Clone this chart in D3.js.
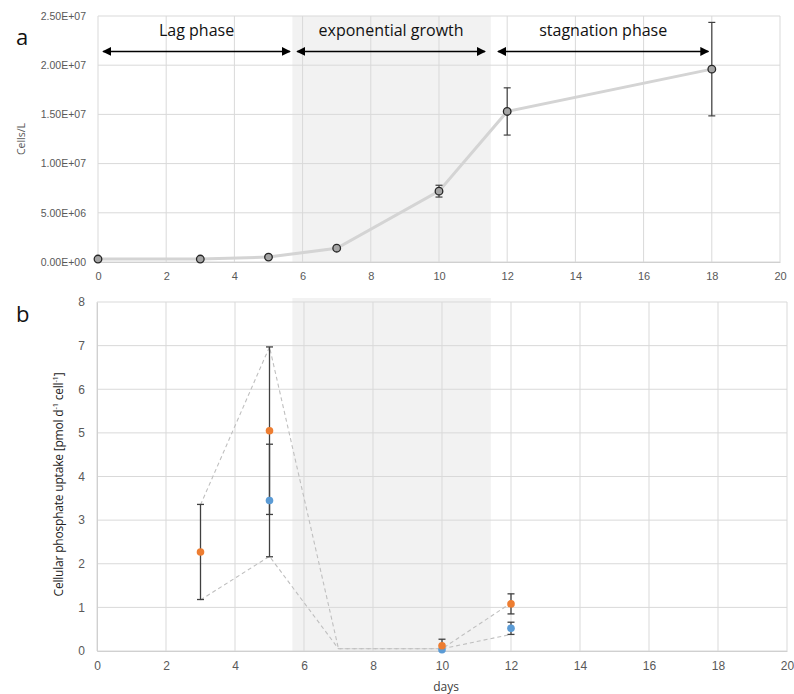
<!DOCTYPE html>
<html>
<head>
<meta charset="utf-8">
<script src="https://cdnjs.cloudflare.com/ajax/libs/d3/7.8.5/d3.min.js"></script>
<style>
body { margin: 0; background: #fff; }
svg { font-family: "Open Sans", sans-serif; }
.tick text { fill: #595959; }
</style>
</head>
<body>
<script>
// panel a: cell counts
var days = [0, 3, 5, 7, 10, 12, 18];
var cells = [3.0e5, 3.0e5, 5.0e5, 1.4e6, 7.2e6, 1.53e7, 1.96e7];
var cellsErr = [0, 0, 0, 0, 6.0e5, 2.4e6, 4.75e6];

// phases (days)
var phaseNames = ["Lag phase", "exponential growth", "stagnation phase"];
var phaseStart = [0.15, 5.84, 11.73];
var phaseEnd = [5.63, 11.35, 17.9];
var shadeRange = [5.7, 11.52];

// panel b: phosphate uptake
var orangeDays = [3, 5, 10, 12];
var orangeUptake = [2.27, 5.05, 0.12, 1.08];
var orangeErr = [1.09, 1.92, 0.15, 0.23];
var blueDays = [5, 10, 12];
var blueUptake = [3.45, 0.03, 0.52];
var blueErr = [1.29, 0, 0.14];

// dashed envelope lines
var envDays = [3, 5, 7, 10, 12];
var upperEnv = [3.35, 6.97, 0.05, 0.05, 1.1];
var lowerEnv = [1.17, 2.17, 0.05, 0.05, 0.38];

var xTicks = d3.range(0, 21, 2);

var svg = d3.select("body").append("svg")
	.attr("width", 794)
	.attr("height", 694);

svg.append("defs").append("marker")
	.attr("id", "head")
	.attr("viewBox", "0 0 10 10")
	.attr("refX", 9).attr("refY", 5)
	.attr("markerWidth", 6).attr("markerHeight", 6)
	.attr("orient", "auto-start-reverse")
	.append("path")
	.attr("d", "M0,0L10,5L0,10Z")
	.attr("fill", "#000");

function sci(v) {
	if (v === 0) return "0.00E+00";
	var e = Math.floor(Math.log10(v));
	var m = v / Math.pow(10, e);
	return m.toFixed(2) + "E+" + (e < 10 ? "0" : "") + e;
}

// ---------- panel a ----------
var xa = d3.scaleLinear().domain([0, 20]).range([98, 780]);
var ya = d3.scaleLinear().domain([0, 2.5e7]).range([262, 16]);

var ga = svg.append("g");

ga.append("rect")
	.attr("x", xa(shadeRange[0]))
	.attr("y", ya(2.5e7))
	.attr("width", xa(shadeRange[1]) - xa(shadeRange[0]))
	.attr("height", ya(0) - ya(2.5e7))
	.attr("fill", "#f2f2f2");

ga.selectAll("line.hgrid").data(d3.range(0, 2.5e7 + 1, 5e6)).enter().append("line")
	.attr("x1", xa(0)).attr("x2", xa(20))
	.attr("y1", function(d) { return ya(d); })
	.attr("y2", function(d) { return ya(d); })
	.attr("stroke", "#d9d9d9");

ga.selectAll("line.vgrid").data(xTicks).enter().append("line")
	.attr("x1", function(d) { return xa(d); })
	.attr("x2", function(d) { return xa(d); })
	.attr("y1", ya(0)).attr("y2", ya(2.5e7))
	.attr("stroke", "#d9d9d9");

ga.append("g")
	.attr("transform", "translate(" + xa(0) + ",0)")
	.call(d3.axisLeft(ya).tickValues(d3.range(0, 2.5e7 + 1, 5e6)).tickFormat(sci).tickSize(0).tickPadding(12))
	.call(function(g) { g.select(".domain").remove(); })
	.selectAll("text").style("font-size", "10.5px");

ga.append("g")
	.attr("transform", "translate(0," + ya(0) + ")")
	.call(d3.axisBottom(xa).tickValues(xTicks).tickSize(0).tickPadding(10))
	.call(function(g) { g.select(".domain").attr("stroke", "#d0d0d0"); })
	.selectAll("text").style("font-size", "11px");

ga.append("path")
	.datum(days)
	.attr("fill", "none")
	.attr("stroke", "#d4d4d4")
	.attr("stroke-width", 3)
	.attr("d", d3.line()
		.x(function(d) { return xa(d); })
		.y(function(d, i) { return ya(cells[i]); }));

var errA = ga.selectAll("g.erra").data(days.filter(function(d, i) { return cellsErr[i] > 0; }))
	.enter().append("g");
errA.each(function(d) {
	var i = days.indexOf(d);
	var g = d3.select(this);
	var x = xa(d), t = ya(cells[i] + cellsErr[i]), b = ya(cells[i] - cellsErr[i]);
	g.append("line").attr("x1", x).attr("x2", x).attr("y1", t).attr("y2", b);
	g.append("line").attr("x1", x - 3.5).attr("x2", x + 3.5).attr("y1", t).attr("y2", t);
	g.append("line").attr("x1", x - 3.5).attr("x2", x + 3.5).attr("y1", b).attr("y2", b);
	g.selectAll("line").attr("stroke", "#404040").attr("stroke-width", 1.2);
});

ga.selectAll("circle").data(days).enter().append("circle")
	.attr("cx", function(d) { return xa(d); })
	.attr("cy", function(d, i) { return ya(cells[i]); })
	.attr("r", 3.8)
	.attr("fill", "#a5a5a5")
	.attr("stroke", "#262626")
	.attr("stroke-width", 1.3);

// phase arrows
ga.selectAll("line.arrow").data(phaseNames).enter().append("line")
	.attr("x1", function(d, i) { return xa(phaseStart[i]); })
	.attr("x2", function(d, i) { return xa(phaseEnd[i]); })
	.attr("y1", ya(2.14e7))
	.attr("y2", ya(2.14e7))
	.attr("stroke", "#000")
	.attr("stroke-width", 1.5)
	.attr("marker-start", "url(#head)")
	.attr("marker-end", "url(#head)");

ga.selectAll("text.phase").data(phaseNames).enter().append("text")
	.attr("x", function(d, i) { return (xa(phaseStart[i]) + xa(phaseEnd[i])) / 2; })
	.attr("y", ya(2.3e7))
	.attr("text-anchor", "middle")
	.style("font-size", "16px")
	.attr("fill", "#111")
	.text(function(d) { return d; });

svg.append("text")
	.attr("transform", "translate(25," + ((ya(0) + ya(2.5e7)) / 2) + ") rotate(-90)")
	.attr("text-anchor", "middle")
	.style("font-size", "10.5px")
	.attr("fill", "#595959")
	.text("Cells/L");

svg.append("text")
	.attr("x", 16).attr("y", 45)
	.style("font-size", "22px")
	.attr("fill", "#111")
	.text("a");

// ---------- panel b ----------
var xb = d3.scaleLinear().domain([0, 20]).range([97, 787]);
var yb = d3.scaleLinear().domain([0, 8]).range([651, 302]);

var gb = svg.append("g");

gb.append("rect")
	.attr("x", xa(shadeRange[0]))
	.attr("y", yb(8) - 4)
	.attr("width", xa(shadeRange[1]) - xa(shadeRange[0]))
	.attr("height", yb(0) - yb(8) + 4)
	.attr("fill", "#f2f2f2");

gb.selectAll("line.hgrid").data(d3.range(0, 9)).enter().append("line")
	.attr("x1", xb(0)).attr("x2", xb(20))
	.attr("y1", function(d) { return yb(d); })
	.attr("y2", function(d) { return yb(d); })
	.attr("stroke", "#d9d9d9");

gb.selectAll("line.vgrid").data(xTicks).enter().append("line")
	.attr("x1", function(d) { return xb(d); })
	.attr("x2", function(d) { return xb(d); })
	.attr("y1", yb(0)).attr("y2", yb(8))
	.attr("stroke", "#d9d9d9");

gb.append("g")
	.attr("transform", "translate(" + xb(0) + ",0)")
	.call(d3.axisLeft(yb).tickValues(d3.range(0, 9)).tickSize(0).tickPadding(12))
	.call(function(g) { g.select(".domain").attr("stroke", "#d0d0d0"); })
	.selectAll("text").style("font-size", "12px");

gb.append("g")
	.attr("transform", "translate(0," + yb(0) + ")")
	.call(d3.axisBottom(xb).tickValues(xTicks).tickSize(0).tickPadding(10))
	.call(function(g) { g.select(".domain").attr("stroke", "#d0d0d0"); })
	.selectAll("text").style("font-size", "12px");

var envLine = function(vals) {
	return d3.line()
		.x(function(d) { return xb(d); })
		.y(function(d, i) { return yb(vals[i]); })(envDays);
};
[upperEnv, lowerEnv].forEach(function(vals) {
	gb.append("path")
		.attr("d", envLine(vals))
		.attr("fill", "none")
		.attr("stroke", "#bfbfbf")
		.attr("stroke-width", 1.1)
		.attr("stroke-dasharray", "4,3");
});

function errBars(dd, vals, errs) {
	dd.forEach(function(d, i) {
		if (!(errs[i] > 0)) return;
		var x = xb(d), t = yb(vals[i] + errs[i]), b = yb(Math.max(0, vals[i] - errs[i]));
		var g = gb.append("g");
		g.append("line").attr("x1", x).attr("x2", x).attr("y1", t).attr("y2", b);
		g.append("line").attr("x1", x - 3.5).attr("x2", x + 3.5).attr("y1", t).attr("y2", t);
		if (vals[i] - errs[i] > 0)
			g.append("line").attr("x1", x - 3.5).attr("x2", x + 3.5).attr("y1", b).attr("y2", b);
		g.selectAll("line").attr("stroke", "#404040").attr("stroke-width", 1.3);
	});
}
errBars(orangeDays, orangeUptake, orangeErr);
errBars(blueDays, blueUptake, blueErr);

gb.selectAll("circle.blue").data(blueDays).enter().append("circle")
	.attr("cx", function(d) { return xb(d); })
	.attr("cy", function(d, i) { return yb(blueUptake[i]); })
	.attr("r", 3.8)
	.attr("fill", "#5b9bd5");

gb.selectAll("circle.orange").data(orangeDays).enter().append("circle")
	.attr("cx", function(d) { return xb(d); })
	.attr("cy", function(d, i) { return yb(orangeUptake[i]); })
	.attr("r", 3.8)
	.attr("fill", "#ed7d31");

var ylab = svg.append("text")
	.attr("transform", "translate(63," + ((yb(0) + yb(8)) / 2 + 8) + ") rotate(-90)")
	.attr("text-anchor", "middle")
	.style("font-size", "12px")
	.style("letter-spacing", "-0.2px")
	.attr("fill", "#222");
ylab.append("tspan").text("Cellular phosphate uptake [pmol d");
ylab.append("tspan").attr("dy", -5).style("font-size", "7.5px").text("-1");
ylab.append("tspan").attr("dy", 5).text(" cell");
ylab.append("tspan").attr("dy", -5).style("font-size", "7.5px").text("-1");
ylab.append("tspan").attr("dy", 5).text("]");

svg.append("text")
	.attr("x", (xb(0) + xb(20)) / 2 + 4)
	.attr("y", 691)
	.attr("text-anchor", "middle")
	.style("font-size", "12px")
	.attr("fill", "#404040")
	.text("days");

svg.append("text")
	.attr("x", 16).attr("y", 322)
	.style("font-size", "22px")
	.attr("fill", "#111")
	.text("b");
</script>
</body>
</html>
